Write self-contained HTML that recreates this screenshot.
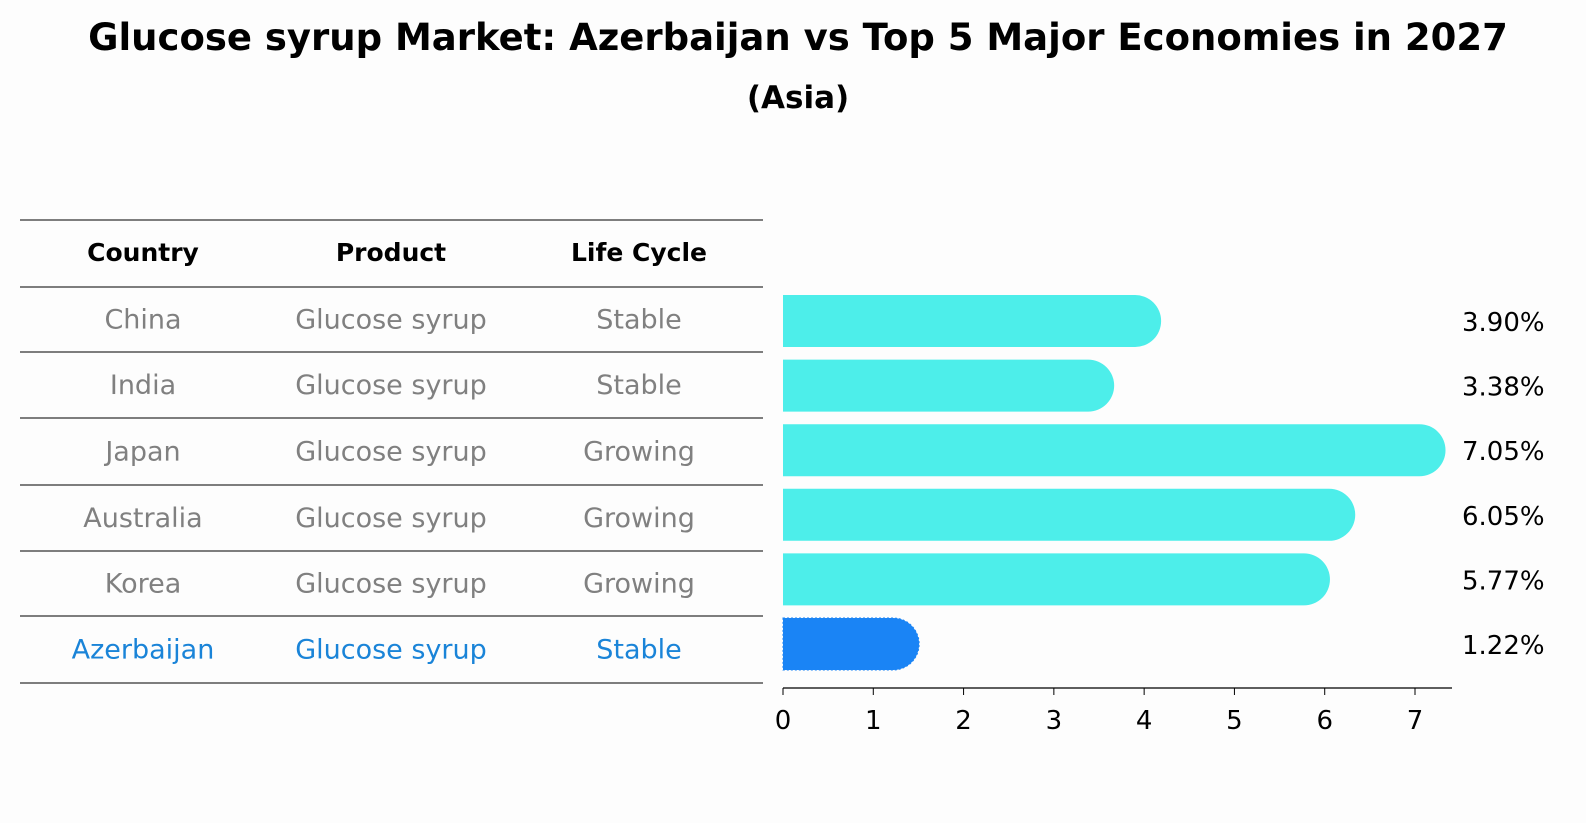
<!DOCTYPE html>
<html style="overflow:hidden"><head><meta charset="utf-8"><style>
html,body{margin:0;padding:0;overflow:hidden}
body{background:#fdfdfd;width:1586px;height:823px;font-family:"DejaVu Sans","Liberation Sans",sans-serif}
svg{display:block}
</style></head><body>
<svg width="1586" height="823" xmlns="http://www.w3.org/2000/svg" font-family="DejaVu Sans, Liberation Sans, sans-serif">
<text x="798" y="50" text-anchor="middle" font-size="37" font-weight="bold">Glucose syrup Market: Azerbaijan vs Top 5 Major Economies in 2027</text>
<text x="798" y="108" text-anchor="middle" font-size="31" font-weight="bold">(Asia)</text>
<g id="table"></g>
<g id="bars"></g>
</svg>
<script>
const countries=["China","India","Japan","Australia","Korea","Azerbaijan"];
const products=["Glucose syrup","Glucose syrup","Glucose syrup","Glucose syrup","Glucose syrup","Glucose syrup"];
const lifeCycles=["Stable","Stable","Growing","Growing","Growing","Stable"];
const values=[3.90,3.38,7.05,6.05,5.77,1.22];
const ticks=[0,1,2,3,4,5,6,7];
const NS="http://www.w3.org/2000/svg";
function mk(tag,attrs,parent){const e=document.createElementNS(NS,tag);for(const k in attrs)e.setAttribute(k,attrs[k]);parent.appendChild(e);return e;}
const tbl=document.getElementById('table'),bars=document.getElementById('bars');
const x0=783,px=(1415-783)/7;
const xs=v=>x0+v*px;
const rowY=i=>321+i*64.6;
const colX=[143,391,639];
const lineYs=[220,287,352,418,485,551,616,683];
lineYs.forEach((y,i)=>{const l=mk('line',{x1:20,x2:763,y1:y,y2:y,stroke:'#000','stroke-width':1},tbl);

});
["Country","Product","Life Cycle"].forEach((h,j)=>{const t=mk('text',{x:colX[j],y:261,'text-anchor':'middle','font-size':25,'font-weight':'bold'},tbl);t.textContent=h;

});
countries.forEach((c,i)=>{
 const col=i===countries.length-1?'#1a84d8':'#808080';
 [c,products[i],lifeCycles[i]].forEach((v,j)=>{const t=mk('text',{x:colX[j],y:(lineYs[i+1]+lineYs[i+2])/2+9,'text-anchor':'middle','font-size':27,fill:col},tbl);t.textContent=v;
 
 });
 const y=rowY(i),h=52,r=26;
 const w=xs(values[i])-x0;
 const isA=i===countries.length-1;
 const p=mk('path',{d:`M${x0},${y-h/2} H${x0+w} A${r},${r} 0 0 1 ${x0+w},${y+h/2} H${x0} Z`,fill:isA?'#1a84f5':'#4deeea',stroke:isA?'#1a84f5':'none','stroke-dasharray':isA?'2,2':'none'},bars);
 
 
 const t=mk('text',{x:1462,y:y+10,'font-size':26},bars);t.textContent=values[i].toFixed(2)+'%';
 
 
});
const ax=mk('line',{x1:x0,x2:1452,y1:688,y2:688,stroke:'#000','stroke-width':1.2},bars);


ticks.forEach(v=>{const l=mk('line',{x1:xs(v),x2:xs(v),y1:688,y2:695,stroke:'#000'},bars);


const t=mk('text',{x:xs(v),y:729,'text-anchor':'middle','font-size':26},bars);t.textContent=v;

});
</script>
</body></html>
